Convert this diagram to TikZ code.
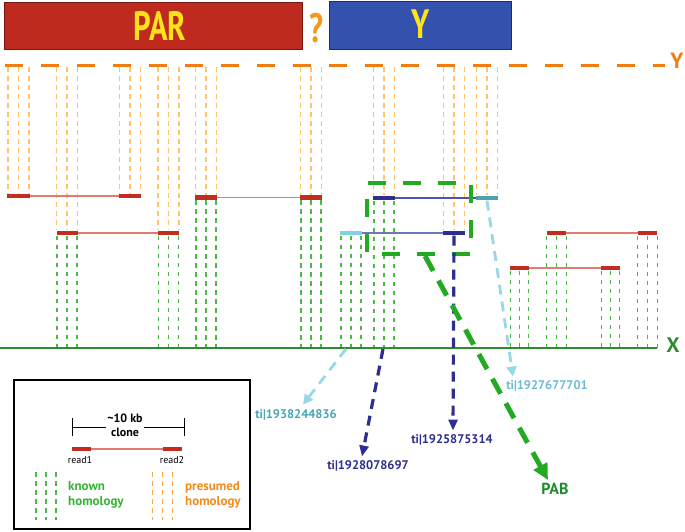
\documentclass[tikz,border=0pt]{standalone}
\usepackage{fontspec}
\setmainfont{PT Sans}
\usetikzlibrary{arrows.meta}
\definecolor{parred}{HTML}{BE2A1E}
\definecolor{ybluefill}{HTML}{3551AE}
\definecolor{yell}{HTML}{FFE21A}
\definecolor{orng}{HTML}{EE7D12}
\definecolor{qorng}{HTML}{F39A1E}
\definecolor{orlight}{HTML}{FFC46A}
\definecolor{grhom}{HTML}{4DB848}
\definecolor{grX}{HTML}{2E8B2E}
\definecolor{readred}{HTML}{C22D1F}
\definecolor{clonered}{HTML}{E27A70}
\definecolor{dblue}{HTML}{2D2E8E}
\definecolor{cloneblue}{HTML}{4A56A8}
\definecolor{cyanread}{HTML}{86CFE3}
\definecolor{tealread}{HTML}{4AA3B3}
\definecolor{cyanarrow}{HTML}{97D8E6}
\definecolor{teallbl}{HTML}{45A6B5}
\definecolor{ltblue}{HTML}{6DBAD8}
\definecolor{pabgreen}{HTML}{22AA22}
\definecolor{pablbl}{HTML}{1E8C2A}
\definecolor{leggreen}{HTML}{33B533}
\definecolor{legorange}{HTML}{F08C1E}
\tikzset{
  rd/.style={fill=readred, inner sep=0pt, minimum height=4.8pt, minimum width=22pt},
  homg/.style={grhom, line width=1.2pt, dash pattern=on 4.5pt off 4.5pt},
  homo/.style={orlight, line width=1.2pt, dash pattern=on 4.5pt off 4.5pt},
  cloneln/.style={clonered, line width=1.4pt},
  tilbl/.style={font=\fontsize{12.5}{14}\selectfont\bfseries, inner sep=0pt},
  cyarrow/.style={cyanarrow, line width=2.8pt, dash pattern=on 10pt off 7pt, -{Triangle[length=10pt,width=10pt]}},
  dbarrow/.style={dblue, line width=3.2pt, dash pattern=on 10pt off 7pt, -{Triangle[length=11pt,width=9pt]}},
}
\begin{document}
\begin{tikzpicture}[x=1pt,y=-1pt]
\useasboundingbox (0,0) rectangle (685,531);
% top boxes
\node[fill=parred, draw=parred!60!black, line width=0.8pt, minimum width=298pt, minimum height=47pt, inner sep=0pt] (par) at (153,25.5) {};
\node[text=yell, font=\fontsize{41}{41}\selectfont\bfseries, inner sep=0pt] (parlbl) at (160,26) {\scalebox{0.75}[1]{PAR}};
\node[fill=ybluefill, draw=ybluefill!55!black, line width=0.8pt, minimum width=182pt, minimum height=48pt, inner sep=0pt] (ybox) at (420,25) {};
\node[text=yell, font=\fontsize{41}{41}\selectfont\bfseries, inner sep=0pt] (ylbl) at (420.5,24) {\scalebox{0.75}[1]{Y}};
\node[text=qorng, font=\fontsize{41}{41}\selectfont\bfseries, inner sep=0pt] (q) at (316,28) {\scalebox{0.75}[1]{?}};
% chromosome lines
\coordinate (yl) at (5,65);
\coordinate (yr) at (665,65);
\draw[orng, line width=3pt, dash pattern=on 18pt off 18pt] (yl) -- (yr);
\node[text=orng, font=\fontsize{22}{22}\selectfont\bfseries, inner sep=0pt] (ychr) at (677,61) {Y};
\coordinate (xl) at (0,348);
\coordinate (xr) at (657,348);
% reads
\node[rd, minimum width=23pt] (a1) at (18.5,196) {};
\node[rd] (a2) at (130,196) {};
\node[rd, minimum width=21pt] (b1) at (67,233) {};
\node[rd, minimum width=21pt] (b2) at (168.5,233) {};
\node[rd] (c1) at (206,197.5) {};
\node[rd] (c2) at (311,197.5) {};
\node[rd, fill=dblue] (d1) at (384,198) {};
\node[rd, fill=tealread] (d2) at (487,198) {};
\node[rd, fill=cyanread] (e1) at (351,233) {};
\node[rd, fill=dblue] (e2) at (454,233) {};
\node[rd, minimum width=19pt] (f1) at (556.5,233) {};
\node[rd, minimum width=19pt] (f2) at (647.5,233) {};
\node[rd, minimum width=19pt] (g1) at (519.5,268) {};
\node[rd, minimum width=19pt] (g2) at (610.5,268) {};
% homology lines
\foreach \n in {a1,a2,b1,b2,c1,c2,d1,e2,d2}
  \foreach \dx in {-10.5,0,10.5}
    \draw[homo] ([xshift=\dx pt]\n.north |- yl) ++(0,2) -- ([xshift=\dx pt]\n.north);
\foreach \n in {b1,b2,c1,c2,d1,e1,f1,f2}
  \foreach \dx in {-10,0,10}
    \draw[homg] ([xshift=\dx pt]\n.south) -- ([xshift=\dx pt]\n.south |- xl);
\foreach \n in {g1,g2}
  \foreach \dx in {-9,0,9}
    \draw[homg] ([xshift=\dx pt]\n.south) -- ([xshift=\dx pt]\n.south |- xl);
% clone lines
\draw[cloneln] (a1.east) -- (a2.west);
\draw[cloneln] (b1.east) -- (b2.west);
\draw[cloneln] (c1.east) -- (c2.west);
\draw[cloneln] (f1.east) -- (f2.west);
\draw[cloneln] (g1.east) -- (g2.west);
\draw[cloneblue, line width=1.4pt] (d1.east) -- (d2.west);
\draw[cloneblue!80!white, line width=1.4pt] (e1.east) -- (e2.west);
% X line
\draw[grX, line width=2.4pt] (xl) -- (xr);
\node[text=grX, font=\fontsize{21}{21}\selectfont\bfseries, inner sep=0pt] (xchr) at (673,345) {X};
% green box
\node[draw=pabgreen, line width=4pt, dash pattern=on 18pt off 17pt, dash phase=20pt, minimum width=104pt, minimum height=71pt, inner sep=0pt] (pabbox) at (419,218.5) {};
% labels
\node[tilbl, text=teallbl] (t1) at (296,415) {ti|1938244836};
\node[tilbl, text=dblue] (t2) at (368,466) {ti|1928078697};
\node[tilbl, text=dblue] (t3) at (452,440) {ti|1925875314};
\node[tilbl, text=ltblue] (t4) at (547,386) {ti|1927677701};
\node[text=pablbl, font=\fontsize{16}{16}\selectfont\bfseries, inner sep=0pt] (pab) at (555,489) {PAB};
% arrows
\coordinate (s1) at (346,349);
\coordinate (s2) at (383,349);
\draw[cyarrow] (s1) -- ([xshift=7pt,yshift=5pt]t1.north);
\draw[dbarrow] (s2) -- ([xshift=-6pt,yshift=4pt]t2.north);
\draw[dbarrow] (e2.south) -- ([xshift=1pt,yshift=4pt]t3.north);
\draw[cyarrow] (d2.south) -- ([xshift=-34pt,yshift=4pt]t4.north);
\draw[pabgreen, line width=5pt, dash pattern=on 17pt off 11pt, -{Triangle[length=16pt,width=15pt]}] ([xshift=6pt]pabbox.south) -- ([xshift=-7pt,yshift=3pt]pab.north);
% legend
\node[draw=black, line width=1.6pt, minimum width=236pt, minimum height=149pt, inner sep=0pt] (legend) at (132,454.5) {};
\node[font=\fontsize{12}{14}\selectfont\bfseries, align=center, inner sep=1pt] (cl) at (125,425) {\textasciitilde10 kb\\clone};
\coordinate (lt) at (72,427);
\coordinate (rt) at (184,427);
\draw[line width=1pt] ([yshift=-9pt]lt) -- ([yshift=9pt]lt);
\draw[line width=1pt] ([yshift=-9pt]rt) -- ([yshift=9pt]rt);
\draw[line width=1pt] (lt) -- (lt -| cl.west);
\draw[line width=1pt] (rt) -- (rt -| cl.east);
\node[rd, minimum width=19pt] (r1) at (81.5,449) {};
\node[rd, minimum width=19pt] (r2) at (172.5,449) {};
\draw[cloneln] (r1.east) -- (r2.west);
\node[font=\fontsize{10}{11}\selectfont, inner sep=0pt] (r1l) at (80,460) {read1};
\node[font=\fontsize{10}{11}\selectfont, inner sep=0pt] (r2l) at (172,460) {read2};
\coordinate (kg) at (46,472);
\coordinate (po) at (162.5,472);
\foreach \dx in {-10,0,10} {
  \draw[homg] ([xshift=\dx pt]kg) -- ++(0,48);
  \draw[homo, orlight!60!orng] ([xshift=\dx pt]po) -- ++(0,48);
}
\node[text=leggreen, font=\fontsize{13}{15.5}\selectfont\bfseries, align=left, anchor=west, inner sep=0pt] (kh) at (68,495) {known\\homology};
\node[text=legorange, font=\fontsize{13}{15.5}\selectfont\bfseries, align=left, anchor=west, inner sep=0pt] (ph) at (185,495) {presumed\\homology};
\end{tikzpicture}
\end{document}
